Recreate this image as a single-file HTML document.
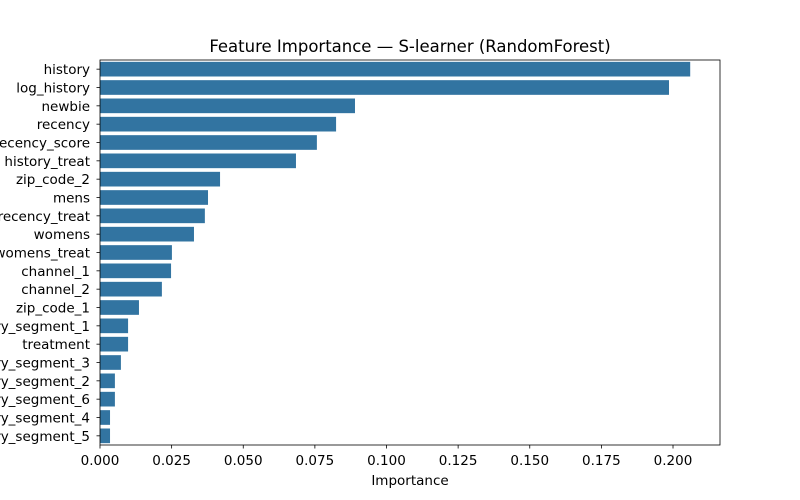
<!DOCTYPE html>
<html><head><meta charset="utf-8"><style>
html,body{margin:0;padding:0;background:#fff;}
svg{display:block;font-family:"DejaVu Sans","Liberation Sans",sans-serif;}
</style></head><body>
<svg id="chart" width="800" height="500">
<text x="410" y="52" text-anchor="middle" font-size="16.5" fill="#000">Feature Importance — S-learner (RandomForest)</text>
<g id="bars"></g>
<g id="yticks"></g>
<g id="xticks"></g>
<rect x="100" y="60" width="620" height="385" fill="none" stroke="#000" stroke-width="0.8"/>
<text x="410" y="485" text-anchor="middle" font-size="13.5">Importance</text>
</svg>
<script>
const features=["history","log_history","newbie","recency","recency_score","history_treat","zip_code_2","mens","recency_treat","womens","womens_treat","channel_1","channel_2","zip_code_1","history_segment_1","treatment","history_segment_3","history_segment_2","history_segment_6","history_segment_4","history_segment_5"];
const importances=[0.206,0.1986,0.089,0.0824,0.0757,0.0684,0.0419,0.0377,0.0366,0.0328,0.0251,0.0248,0.0216,0.0136,0.0098,0.0098,0.0073,0.0052,0.0052,0.0035,0.0035];
const xTicks=[0,0.025,0.05,0.075,0.1,0.125,0.15,0.175,0.2];
const xTickLabels=["0.000","0.025","0.050","0.075","0.100","0.125","0.150","0.175","0.200"];
const NS="http://www.w3.org/2000/svg";
const L=100,R=720,T=60,B=445;
const xMax=0.2164;
const x=v=>L+v/xMax*(R-L);
const band=(B-T)/features.length;
const y=i=>T+i*band;
const bars=document.getElementById('bars'),yt=document.getElementById('yticks'),xt=document.getElementById('xticks');
features.forEach((f,i)=>{
 const r=document.createElementNS(NS,'rect');
 r.setAttribute('x',x(0));r.setAttribute('y',y(i)+band*0.1);
 r.setAttribute('width',x(importances[i])-x(0));r.setAttribute('height',band*0.8);
 r.setAttribute('fill','#3274a1');
 
 
 bars.appendChild(r);
 const cy=y(i)+band/2;
 const tk=document.createElementNS(NS,'line');
 tk.setAttribute('x1',L-3.5);tk.setAttribute('x2',L);tk.setAttribute('y1',cy);tk.setAttribute('y2',cy);
 tk.setAttribute('stroke','#000');tk.setAttribute('stroke-width','0.8');
 yt.appendChild(tk);
 const t=document.createElementNS(NS,'text');
 t.setAttribute('x',L-10);t.setAttribute('y',cy+5);t.setAttribute('text-anchor','end');t.setAttribute('font-size','13.5');
 t.textContent=f;
 
 
 yt.appendChild(t);
});
xTicks.forEach((v,i)=>{
 const tk=document.createElementNS(NS,'line');
 tk.setAttribute('x1',x(v));tk.setAttribute('x2',x(v));tk.setAttribute('y1',B);tk.setAttribute('y2',B+3.5);
 tk.setAttribute('stroke','#000');tk.setAttribute('stroke-width','0.8');
 xt.appendChild(tk);
 const t=document.createElementNS(NS,'text');
 t.setAttribute('x',x(v));t.setAttribute('y',B+20);t.setAttribute('text-anchor','middle');t.setAttribute('font-size','13.5');
 t.textContent=xTickLabels[i];
 
 
 xt.appendChild(t);
});
</script>
</body></html>
